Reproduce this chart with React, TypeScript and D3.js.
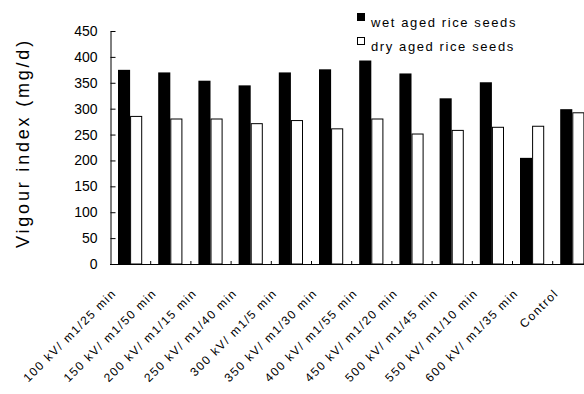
import React, { useEffect, useRef } from 'react';
import * as d3 from 'd3';

const categories = [
  '100 kV/ m1/25 min',
  '150 kV/ m1/50 min',
  '200 kV/ m1/15 min',
  '250 kV/ m1/40 min',
  '300 kV/ m1/5 min',
  '350 kV/ m1/30 min',
  '400 kV/ m1/55 min',
  '450 kV/ m1/20 min',
  '500 kV/ m1/45 min',
  '550 kV/ m1/10 min',
  '600 kV/ m1/35 min',
  'Control',
];
const wetValues = [375, 370, 354, 345, 370, 376, 393, 368, 320, 351, 205, 299];
const dryValues = [286, 281, 281, 272, 278, 262, 281, 252, 259, 265, 267, 293];
const seriesNames = ['wet aged rice seeds', 'dry aged rice seeds'];
const yTicks = [0, 50, 100, 150, 200, 250, 300, 350, 400, 450];

const App = () => {
  const svgRef = useRef<SVGSVGElement>(null);

  useEffect(() => {
    const width = 584;
    const height = 394;
    const svg = d3.select(svgRef.current).attr('width', width).attr('height', height);
    svg.selectAll('*').remove();

    const font = '"Liberation Sans", Arial, sans-serif';

    const x = d3.scaleBand().domain(categories).range([110, 110 + 12 * 40.2]).padding(0);
    const bw = x.bandwidth();
    const xSub = d3.scaleBand().domain(['wet', 'dry']).range([8, bw - 8]).padding(0);
    const y = d3.scaleLinear().domain([0, 450]).range([264, 31]);

    const data = categories.map((c, i) => ({ cat: c, wet: wetValues[i], dry: dryValues[i] }));

    const groups = svg
      .selectAll('g.grp')
      .data(data)
      .enter()
      .append('g')
      .attr('class', 'grp')
      .attr('transform', (d) => `translate(${x(d.cat)},0)`);

    groups
      .append('rect')
      .attr('x', xSub('wet')!)
      .attr('y', (d) => y(d.wet))
      .attr('width', xSub.bandwidth())
      .attr('height', (d) => y(0) - y(d.wet))
      .attr('fill', '#000');

    groups
      .append('rect')
      .attr('x', xSub('dry')! + 0.5)
      .attr('y', (d) => y(d.dry) + 0.5)
      .attr('width', xSub.bandwidth() - 1)
      .attr('height', (d) => y(0) - y(d.dry) - 0.5)
      .attr('fill', '#fff')
      .attr('stroke', '#000')
      .attr('stroke-width', 1);

    // y axis
    const yAxis = svg
      .append('g')
      .attr('transform', 'translate(110.5,0)')
      .call(d3.axisLeft(y).tickValues(yTicks).tickSizeInner(-5).tickSizeOuter(0).tickPadding(13));
    yAxis.select('.domain').attr('stroke', '#000');
    yAxis.selectAll('line').attr('stroke', '#000');
    yAxis.selectAll('text').style('font-family', font).style('font-size', '14px').attr('fill', '#000');

    // x axis
    const xAxis = svg.append('g');
    xAxis
      .append('line')
      .attr('x1', 110)
      .attr('x2', width)
      .attr('y1', y(0) + 0.5)
      .attr('y2', y(0) + 0.5)
      .attr('stroke', '#000');
    xAxis
      .selectAll('line.tick')
      .data(categories.slice(1))
      .enter()
      .append('line')
      .attr('class', 'tick')
      .attr('x1', (d) => x(d)! + 0.5)
      .attr('x2', (d) => x(d)! + 0.5)
      .attr('y1', y(0))
      .attr('y2', y(0) - 3)
      .attr('stroke', '#000');

    xAxis
      .selectAll('text')
      .data(categories)
      .enter()
      .append('text')
      .attr('transform', (d) => `translate(${x(d)! + bw / 2 - 13},294) rotate(-45)`)
      .attr('text-anchor', 'end')
      .style('font-family', font)
      .style('font-size', '12px')
      .style('letter-spacing', '1.5px')
      .text((d) => d);

    // y title
    svg
      .append('text')
      .attr('transform', `translate(29,143) rotate(-90)`)
      .attr('text-anchor', 'middle')
      .style('font-family', font)
      .style('font-size', '18px')
      .style('letter-spacing', '2.8px')
      .text('Vigour index (mg/d)');

    // legend
    const legend = svg.append('g').attr('transform', 'translate(357,0)');
    seriesNames.forEach((name, i) => {
      legend
        .append('rect')
        .attr('x', 0.5)
        .attr('y', 13.5 + i * 24)
        .attr('width', 7)
        .attr('height', 7)
        .attr('fill', i === 0 ? '#000' : '#fff')
        .attr('stroke', '#000');
      legend
        .append('text')
        .attr('x', 14)
        .attr('y', 27 + i * 24)
        .style('font-family', font)
        .style('font-size', '13px')
        .style('letter-spacing', '1.6px')
        .text(name);
    });
  }, []);

  return <svg ref={svgRef} style={{ position: 'absolute', left: 0, top: 0, background: '#fff' }}></svg>;
};

export default App;
